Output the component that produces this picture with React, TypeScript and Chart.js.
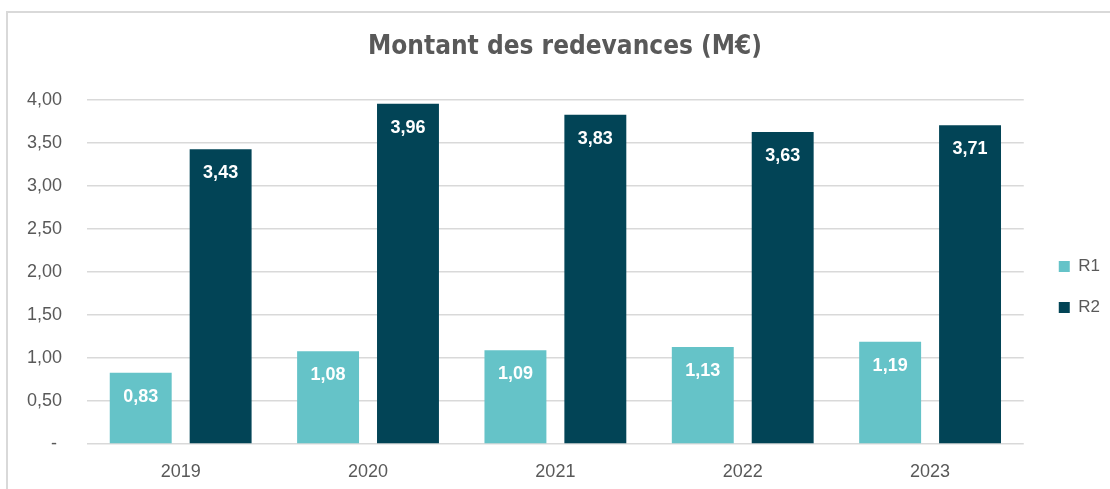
import React, { useEffect, useRef } from "react";
import { Chart, registerables } from "chart.js";

Chart.register(...registerables);

const categories = ["2019", "2020", "2021", "2022", "2023"];
const r1Values = [0.83, 1.08, 1.09, 1.13, 1.19];
const r2Values = [3.43, 3.96, 3.83, 3.63, 3.71];
const seriesNames = ["R1", "R2"];
const yTicks = [0, 0.5, 1, 1.5, 2, 2.5, 3, 3.5, 4];
const titleText = "Montant des redevances (M€)";

const fmt = (v: number) => v.toFixed(2).replace(".", ",");

const labelPlugin = {
  id: "barLabels",
  afterDatasetsDraw(chart: any) {
    const ctx = chart.ctx;
    ctx.save();
    ctx.fillStyle = "#ffffff";
    ctx.font = "bold 18px 'Liberation Sans', Arial, sans-serif";
    ctx.textAlign = "center";
    ctx.textBaseline = "middle";
    chart.data.datasets.forEach((ds: any, i: number) => {
      const meta = chart.getDatasetMeta(i);
      meta.data.forEach((bar: any, j: number) => {
        ctx.fillText(fmt(ds.data[j]), bar.x, bar.y + 24);
      });
    });
    ctx.restore();
  },
};

export default function App() {
  const ref = useRef<HTMLCanvasElement | null>(null);
  useEffect(() => {
    if (!ref.current) return;
    const tickFont = { family: "'Liberation Sans', Arial, sans-serif", size: 18 };
    const chart = new Chart(ref.current, {
      type: "bar",
      data: {
        labels: categories,
        datasets: [
          {
            label: seriesNames[0],
            data: r1Values,
            backgroundColor: "#65C3C8",
            borderWidth: 0,
            barPercentage: 0.775,
            categoryPercentage: 0.853,
          },
          {
            label: seriesNames[1],
            data: r2Values,
            backgroundColor: "#024456",
            borderWidth: 0,
            barPercentage: 0.775,
            categoryPercentage: 0.853,
          },
        ],
      },
      options: {
        responsive: false,
        animation: false,
        layout: { padding: { left: 20, right: 0, top: 0, bottom: 0 } },
        plugins: {
          tooltip: { enabled: false },
          title: {
            display: true,
            text: titleText,
            color: "#595959",
            font: {
              family: "'Liberation Sans Narrow', 'DejaVu Sans Condensed', sans-serif",
              size: 26,
              weight: "bold",
            },
            padding: { top: 32, bottom: 37 },
          },
          legend: {
            position: "right",
            fullSize: false,
            title: { display: true, text: "", font: { size: 10 }, padding: 9 },
            labels: {
              boxWidth: 11,
              boxHeight: 11,
              padding: 24,
              color: "#595959",
              font: { family: "'Liberation Sans', Arial, sans-serif", size: 17 },
            },
          },
        },
        scales: {
          x: {
            grid: { display: false, drawTicks: false },
            border: { display: false },
            ticks: { color: "#595959", font: tickFont, padding: 17 },
            afterFit: (s: any) => {
              s.height = 45;
            },
          },
          y: {
            min: 0,
            max: 4,
            afterBuildTicks: (s: any) => {
              s.ticks = yTicks.map((v) => ({ value: v }));
            },
            grid: { color: "#d9d9d9", lineWidth: 1.5, drawTicks: false },
            border: { display: false },
            ticks: {
              color: "#595959",
              font: tickFont,
              padding: 25,
              callback: (v: any) => (Number(v) === 0 ? "- " : fmt(Number(v))),
            },
            afterFit: (s: any) => {
              s.width = 67;
            },
          },
          ySpacer: {
            position: "right",
            display: true,
            grid: { display: false, drawTicks: false },
            border: { display: false },
            ticks: { display: false },
            afterFit: (s: any) => {
              s.width = 11;
            },
          },
        },
      },
      plugins: [labelPlugin],
    });
    return () => chart.destroy();
  }, []);

  return (
    <div
      style={{
        position: "fixed",
        left: 0,
        top: 0,
        width: 1110,
        height: 489,
        overflow: "hidden",
        background: "#ffffff",
      }}
    >
      <div
        style={{
          position: "absolute",
          left: 6,
          top: 11,
          width: 1300,
          height: 700,
          border: "2px solid #d9d9d9",
          boxSizing: "border-box",
        }}
      />
      <canvas
        ref={ref}
        width={1110}
        height={489}
        style={{ position: "absolute", left: 0, top: 0, width: 1110, height: 489 }}
      />
    </div>
  );
}
